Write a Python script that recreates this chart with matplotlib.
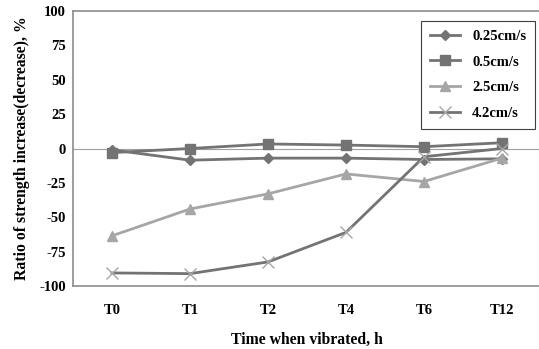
import matplotlib.pyplot as plt

plt.rcParams['font.family'] = ['Liberation Serif', 'DejaVu Serif']
plt.rcParams['font.weight'] = 'bold'
plt.rcParams['axes.unicode_minus'] = False

times = ['T0', 'T1', 'T2', 'T4', 'T6', 'T12']
v025 = [-1, -8.5, -7, -7, -8, -7.5]
v05 = [-3, 0, 3.3, 2.5, 1.3, 4.2]
v25 = [-63.5, -44, -33, -18.5, -24, -7]
v42 = [-90.5, -91, -82.5, -61, -6, 0]

dark = '#737373'
light = '#a6a6a6'

fig = plt.figure(figsize=(5.39, 3.49), dpi=100)
ax = fig.add_axes([73 / 539, 1 - 286 / 349, 468 / 539, 275 / 349])

x = range(len(times))
ax.plot(x, v025, color=dark, lw=2, marker='D', ms=5, label='0.25cm/s')
ax.plot(x, v05, color=dark, lw=2, marker='s', ms=7, label='0.5cm/s')
ax.plot(x, v25, color=light, lw=2, marker='^', ms=7, label='2.5cm/s')
ax.plot(x, v42, color=dark, lw=2, marker='x', ms=8, mec=light, mew=1, label='4.2cm/s')

ax.axhline(0, color='#a0a0a0', lw=0.8, zorder=0)
ax.set_xlim(-0.5, 5.5)
ax.set_ylim(-100, 100)
ax.set_yticks([-100, -75, -50, -25, 0, 25, 50, 75, 100])
ax.set_xticks(list(x))
ax.set_xticklabels(times)
ax.tick_params(length=0, labelsize=10.5, pad=5)
ax.tick_params(axis='x', pad=13)
for lab in ax.get_xticklabels() + ax.get_yticklabels():
    lab.set_fontweight('bold')

for s in ['left', 'bottom', 'top']:
    ax.spines[s].set_color('#8c8c8c')
    ax.spines[s].set_linewidth(1.2)
ax.spines['right'].set_visible(False)

ax.set_xlabel('Time when vibrated, h', fontsize=11.3, fontweight='bold', labelpad=11)
ax.set_ylabel('Ratio of strength increase(decrease), %', fontsize=11.3, fontweight='bold', labelpad=7)

leg = ax.legend(loc='upper right', bbox_to_anchor=(462 / 468, 265 / 275), fancybox=False,
                edgecolor='#404040', fontsize=10.5, handlelength=2.1, labelspacing=0.85,
                borderpad=0.6, framealpha=1, borderaxespad=0)
leg.get_frame().set_linewidth(0.8)
for t in leg.get_texts():
    t.set_fontweight('bold')

fig.savefig('out.png', dpi=100)
